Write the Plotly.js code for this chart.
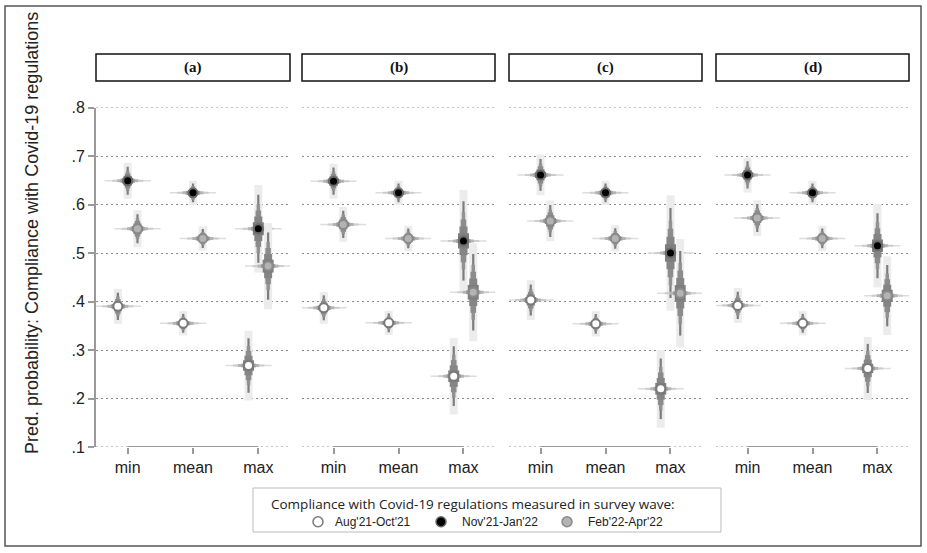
<!DOCTYPE html>
<html>
<head>
<meta charset="utf-8">
<script src="https://cdn.plot.ly/plotly-3.0.1.min.js"></script>
<style>html,body{margin:0;padding:0;background:#fff;}#chart{width:927px;height:553px;}</style>
</head>
<body>
<div id="chart"></div>
<script>
// ---------- data ----------
const panelLabels = ['(a)', '(b)', '(c)', '(d)'];
const categories = ['min', 'mean', 'max'];
const seriesNames = ["Aug'21-Oct'21", "Nov'21-Jan'22", "Feb'22-Apr'22"];
const yTickVals = [0.1, 0.2, 0.3, 0.4, 0.5, 0.6, 0.7, 0.8];
const yTickText = ['.1', '.2', '.3', '.4', '.5', '.6', '.7', '.8'];

// predicted probabilities, per panel [min, mean, max]
const augEst = [[0.390, 0.355, 0.268], [0.387, 0.356, 0.246], [0.403, 0.354, 0.220], [0.392, 0.355, 0.262]];
const novEst = [[0.649, 0.624, 0.550], [0.648, 0.624, 0.525], [0.661, 0.624, 0.500], [0.661, 0.624, 0.515]];
const febEst = [[0.550, 0.530, 0.473], [0.559, 0.530, 0.419], [0.566, 0.530, 0.417], [0.572, 0.530, 0.412]];
// outer confidence half-widths
const augCI = [[0.036, 0.025, 0.072], [0.033, 0.025, 0.079], [0.041, 0.026, 0.080], [0.036, 0.025, 0.065]];
const novCI = [[0.037, 0.025, 0.090], [0.036, 0.025, 0.105], [0.042, 0.025, 0.119], [0.036, 0.025, 0.086]];
const febCI = [[0.038, 0.025, 0.089], [0.036, 0.026, 0.101], [0.042, 0.027, 0.112], [0.037, 0.026, 0.081]];

// ---------- styling ----------
const W = 927, H = 553;
const fx = p => p / W;
const fy = p => 1 - p / H;
const panelPx = [[96, 290], [302, 495], [509, 702], [716, 909]];
const yDom = [fy(447), fy(107.5)];
const xRange = [-0.485, 2.485];
const offsets = [-0.15, 0, 0.15];
const markerStyles = [
  {color: '#ffffff', line: {color: '#7a7a7a', width: 2}},
  {color: '#000000', line: {color: '#6a6a6a', width: 2}},
  {color: '#b3b3b3', line: {color: '#8a8a8a', width: 2}}
];
const layers = [
  {yf: 1.00, yt: 8,   yc: '#ececec', xh: 0.354, xt: 1.5, xc: '#dddddd'},
  {yf: 0.78, yt: 2.2, yc: '#7d7d7d', xh: 0.24,  xt: 2,   xc: '#cccccc'},
  {yf: 0.56, yt: 3.5, yc: '#929292', xh: 0.16,  xt: 3,   xc: '#b4b4b4'},
  {yf: 0.42, yt: 5.5, yc: '#8c8c8c', xh: 0.11,  xt: 4,   xc: '#a0a0a0'},
  {yf: 0.28, yt: 8,   yc: '#858585', xh: 0.07,  xt: 5,   xc: '#8e8e8e'},
  {yf: 0.15, yt: 11,  yc: '#7e7e7e', xh: 0.0,   xt: 0,   xc: '#808080'}
];

const ests = [augEst, novEst, febEst];
const cis = [augCI, novCI, febCI];

const traces = [];
const layout = {
  width: W, height: H,
  margin: {l: 0, r: 0, t: 0, b: 0},
  paper_bgcolor: '#ffffff', plot_bgcolor: 'rgba(0,0,0,0)',
  showlegend: false,
  shapes: [], annotations: []
};
const tickFont = {family: 'Liberation Sans, Arial, sans-serif', size: 16, color: '#222'};

panelLabels.forEach((lab, p) => {
  const xa = 'x' + (p === 0 ? '' : p + 1);
  const ya = 'y' + (p === 0 ? '' : p + 1);
  const xKey = 'xaxis' + (p === 0 ? '' : p + 1);
  const yKey = 'yaxis' + (p === 0 ? '' : p + 1);
  layout[xKey] = {
    domain: [fx(panelPx[p][0]), fx(panelPx[p][1])],
    range: xRange, anchor: ya,
    tickmode: 'array', tickvals: [0, 1, 2], ticktext: categories,
    ticks: 'outside', ticklen: 6, tickwidth: 2, tickcolor: '#9a9a9a',
    showline: false, showgrid: false, zeroline: false,
    tickfont: tickFont, fixedrange: true
  };
  layout[yKey] = {
    domain: yDom, range: [0.1, 0.8], anchor: xa,
    tickmode: 'array', tickvals: yTickVals, ticktext: yTickText,
    showgrid: true, gridcolor: '#8a8a8a', gridwidth: 1, griddash: '2px,3px',
    zeroline: false,
    showline: p === 0, linecolor: '#9a9a9a', linewidth: 2,
    ticks: p === 0 ? 'outside' : '', ticklen: 6, tickwidth: 2, tickcolor: '#9a9a9a',
    showticklabels: p === 0,
    tickfont: tickFont, fixedrange: true
  };
  // edge gridlines (.1 and .8) that plotly omits
  [0.1, 0.8].forEach(v => {
    layout.shapes.push({type: 'line', xref: xa + ' domain', yref: ya, x0: 0, x1: 1, y0: v, y1: v,
      line: {color: '#8a8a8a', width: 1, dash: '2px,3px'}, layer: 'below'});
  });
  // partial x axis line (min..max, Stata style)
  layout.shapes.push({type: 'line', xref: xa, yref: ya, x0: 0, x1: 2, y0: 0.1, y1: 0.1,
    line: {color: '#9a9a9a', width: 2}});
  // header box
  layout.shapes.push({type: 'rect', xref: 'paper', yref: 'paper',
    x0: fx(panelPx[p][0]), x1: fx(panelPx[p][1]), y0: fy(81), y1: fy(54),
    line: {color: '#111', width: 1.5}, fillcolor: 'rgba(0,0,0,0)'});
  layout.annotations.push({xref: 'paper', yref: 'paper', x: fx((panelPx[p][0] + panelPx[p][1]) / 2), y: fy(67.5),
    text: '<b>' + lab + '</b>', showarrow: false, xanchor: 'center', yanchor: 'middle',
    font: {family: 'Liberation Serif, Times New Roman, serif', size: 15, color: '#111'}});

  ests.forEach((est, s) => {
    const xs = categories.map((c, i) => i + offsets[s]);
    const ys = est[p];
    layers.forEach(L => {
      const t = {
        type: 'scatter', mode: 'markers', x: xs, y: ys, xaxis: xa, yaxis: ya,
        marker: {size: 2, opacity: 0}, hoverinfo: 'skip',
        error_y: {type: 'data', symmetric: true, array: cis[s][p].map(v => v * L.yf),
          thickness: L.yt, width: 0, color: L.yc, visible: true}
      };
      if (L.xh > 0) {
        t.error_x = {type: 'data', symmetric: true, array: xs.map(() => L.xh),
          thickness: L.xt, width: 0, color: L.xc, visible: true};
      }
      traces.push(t);
    });
    traces.push({
      type: 'scatter', mode: 'markers', x: xs, y: ys, xaxis: xa, yaxis: ya,
      name: seriesNames[s],
      marker: Object.assign({size: 9, symbol: 'circle'}, markerStyles[s])
    });
  });
});

// outer frame
layout.shapes.push({type: 'rect', xref: 'paper', yref: 'paper', x0: fx(5), x1: fx(921), y0: fy(546), y1: fy(6),
  line: {color: '#555', width: 1.5}, fillcolor: 'rgba(0,0,0,0)', layer: 'below'});

// y-axis title
layout.annotations.push({xref: 'paper', yref: 'paper', x: fx(32), y: fy(233), textangle: -90,
  text: 'Pred. probability: Compliance with Covid-19 regulations', showarrow: false,
  xanchor: 'center', yanchor: 'middle',
  font: {family: 'Liberation Sans, Arial, sans-serif', size: 18, color: '#222'}});

// legend (key)
layout.shapes.push({type: 'rect', xref: 'paper', yref: 'paper', x0: fx(253), x1: fx(721), y0: fy(532), y1: fy(488),
  line: {color: '#bbbbbb', width: 1}, fillcolor: 'rgba(0,0,0,0)'});
layout.annotations.push({xref: 'paper', yref: 'paper', x: fx(472.5), y: fy(503.5),
  text: 'Compliance with Covid-19 regulations measured in survey wave:', showarrow: false,
  xanchor: 'center', yanchor: 'middle',
  font: {family: 'Open Sans, Noto Sans, sans-serif', size: 13.5, color: '#222'}});
const keyCx = [318, 441, 567];
const keyTx = [333, 460, 586];
seriesNames.forEach((n, s) => {
  const r = 5;
  layout.shapes.push({type: 'circle', xref: 'paper', yref: 'paper',
    x0: fx(keyCx[s] - r), x1: fx(keyCx[s] + r), y0: fy(521.7 + r), y1: fy(521.7 - r),
    fillcolor: markerStyles[s].color, line: {color: markerStyles[s].line.color, width: 1.5}});
  layout.annotations.push({xref: 'paper', yref: 'paper', x: fx(keyTx[s]), y: fy(521.7),
    text: n, showarrow: false, xanchor: 'left', yanchor: 'middle',
    font: {family: 'Liberation Sans, Arial, sans-serif', size: 12, color: '#222'}});
});

Plotly.newPlot('chart', traces, layout, {displayModeBar: false, staticPlot: true});
</script>
</body>
</html>
